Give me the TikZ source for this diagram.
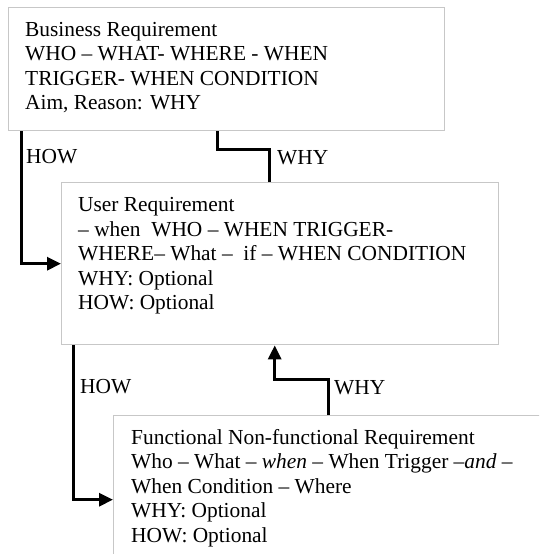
\documentclass[tikz,border=0pt]{standalone}
\usepackage{fontspec}
\setmainfont{Liberation Serif}
\usetikzlibrary{arrows.meta}

\begin{document}
\begin{tikzpicture}[x=1pt,y=-1pt,
    reqbox/.style={draw=black!22, line width=1.4pt, anchor=north west, inner sep=0pt},
    reqtext/.style={anchor=north west, inner sep=0pt, align=left, font=\fontsize{21.4}{24.5}\selectfont},
    lbl/.style={anchor=base west, inner sep=0pt, font=\fontsize{21.4}{24.5}\selectfont},
    link/.style={line width=3pt},
    arr/.style={link, -{Triangle[length=14pt,width=13pt]}}]
      % \draw[help lines](0,0) grid (539,554);

      % Bounding box
      \useasboundingbox (0,0) rectangle (539,554);
      \clip (0,0) rectangle (539,554);

      \draw (8,7) node (business)[reqbox, minimum width=436pt, minimum height=123pt] {};
      \draw (61,182) node (user)[reqbox, minimum width=437pt, minimum height=162pt] {};
      \draw (113,415) node (functional)[reqbox, minimum width=437pt, minimum height=168pt] {};

      \draw ([shift={(17,12)}]business.north west) node (businesstxt)[reqtext]
        {\strut Business Requirement\\
         WHO -- WHAT- WHERE - WHEN\\
         TRIGGER- WHEN CONDITION\\
         Aim, Reason: WHY};
      \draw ([shift={(17,12.5)}]user.north west) node (usertxt)[reqtext]
        {\strut User Requirement\\
         -- when\ \ WHO -- WHEN TRIGGER-\\
         WHERE-- What --\ \ if -- WHEN CONDITION\\
         WHY: Optional\\
         HOW: Optional};
      \draw ([shift={(18,12)}]functional.north west) node (functionaltxt)[reqtext]
        {\strut Functional Non-functional Requirement\\
         Who -- What -- \textit{when} -- When Trigger \textit{--and} --\\
         When Condition -- Where\\
         WHY: Optional\\
         HOW: Optional};

      \draw [arr] ([xshift=13pt]business.south west) |- (user.west);
      \draw [link] ([xshift=-10.5pt]user.north) |- ([xshift=-9pt,yshift=-18pt]business.south) -- ([xshift=-9pt]business.south);
      \draw [arr] ([xshift=12pt]user.south west) |- (functional.west);
      \draw [arr] ([xshift=-3.5pt]functional.north) |- ([xshift=-5.5pt,yshift=-34pt]user.south) -- ([xshift=-5.5pt]user.south);

      \draw (26,163) node (how1)[lbl] {HOW};
      \draw (277,164) node (why1)[lbl] {WHY};
      \draw (80,393) node (how2)[lbl] {HOW};
      \draw (334,394) node (why2)[lbl] {WHY};
    \end{tikzpicture}
\end{document}
